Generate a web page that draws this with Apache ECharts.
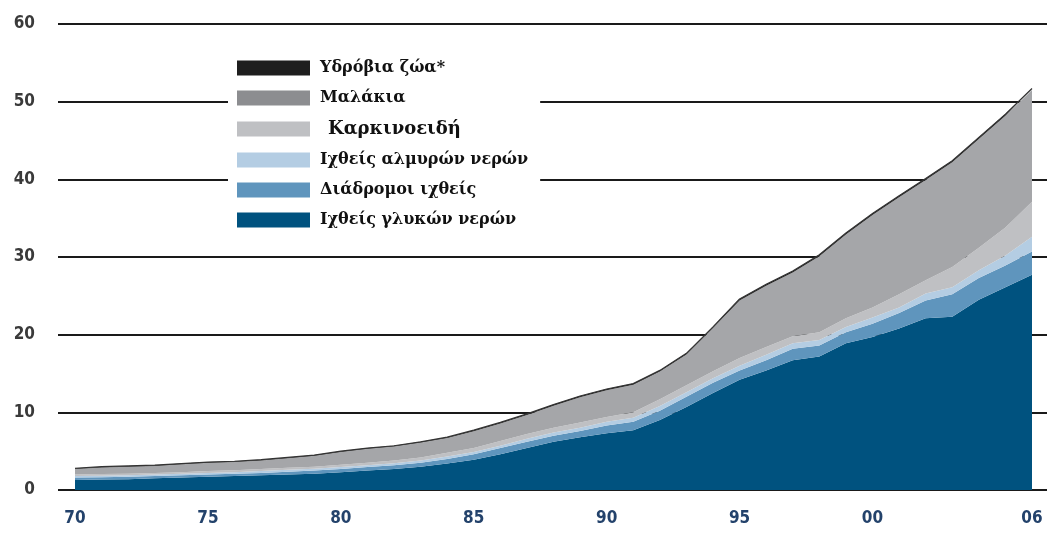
<!DOCTYPE html>
<html>
<head>
<meta charset="utf-8">
<script src="https://cdn.jsdelivr.net/npm/echarts@6/dist/echarts.min.js"></script>
<style>
html,body{margin:0;padding:0;background:#fff;}
#c{width:1047px;height:534px;}
</style>
</head>
<body>
<div id="c"></div>
<script>
// Years 1970..2006
const years = ["1970","1971","1972","1973","1974","1975","1976","1977","1978","1979","1980","1981","1982","1983","1984","1985","1986","1987","1988","1989","1990","1991","1992","1993","1994","1995","1996","1997","1998","1999","2000","2001","2002","2003","2004","2005","2006"];
const xTickLabels = ["1970","1975","1980","1985","1990","1995","2000","2006"];
const yTicks = [0,10,20,30,40,50,60];

// Series names (legend order top → bottom)
const names = ["Υδρόβια ζώα*","Μαλάκια","Καρκινοειδή","Ιχθείς αλμυρών νερών","Διάδρομοι ιχθείς","Ιχθείς γλυκών νερών"];

// Values (million tonnes), per series
const freshwater = [1.3,1.35,1.4,1.5,1.6,1.7,1.8,1.9,2.0,2.1,2.3,2.5,2.7,3.0,3.4,3.9,4.6,5.4,6.2,6.8,7.3,7.7,9.0,10.7,12.5,14.2,15.4,16.7,17.2,18.9,19.7,20.8,22.1,22.3,24.5,26.1,27.7];
const diadromous = [0.3,0.3,0.3,0.3,0.3,0.3,0.3,0.3,0.35,0.4,0.4,0.45,0.5,0.5,0.6,0.7,0.8,0.8,0.8,0.8,1.0,1.1,1.2,1.3,1.3,1.2,1.3,1.5,1.4,1.4,1.7,2.0,2.3,2.9,2.8,2.8,3.0];
const marine = [0.2,0.2,0.2,0.2,0.2,0.2,0.2,0.25,0.25,0.25,0.25,0.25,0.25,0.3,0.3,0.3,0.3,0.4,0.4,0.4,0.5,0.5,0.6,0.6,0.6,0.6,0.7,0.7,0.7,0.7,0.8,0.7,0.9,0.9,1.0,1.3,1.9];
const crustaceans = [0.2,0.2,0.2,0.2,0.2,0.25,0.25,0.25,0.25,0.25,0.3,0.3,0.35,0.4,0.5,0.5,0.6,0.6,0.6,0.7,0.6,0.7,0.9,0.9,0.9,1.0,1.0,0.9,1.0,1.1,1.3,1.7,1.7,2.6,2.9,3.6,4.5];
const molluscs = [0.7,0.85,0.9,0.9,1.0,1.05,1.05,1.1,1.25,1.4,1.65,1.8,1.8,1.9,1.9,2.15,2.25,2.45,2.85,3.25,3.45,3.55,3.55,3.95,5.55,7.4,7.9,8.2,9.8,10.8,11.9,12.5,12.9,13.5,14.0,14.4,14.4];
const aquaticNei = [0.1,0.1,0.1,0.1,0.1,0.1,0.1,0.1,0.1,0.1,0.1,0.1,0.1,0.1,0.1,0.15,0.15,0.15,0.15,0.15,0.15,0.15,0.15,0.15,0.15,0.2,0.2,0.2,0.2,0.2,0.2,0.2,0.2,0.2,0.2,0.2,0.2];

const chart = echarts.init(document.getElementById('c'), null, {renderer: 'canvas'});

function area(name, arr, color, lineW, lineC) {
  return {
    name: name, type: 'line', stack: 'total', symbol: 'none', smooth: false,
    xAxisIndex: 1, yAxisIndex: 1,
    data: arr,
    itemStyle: {color: color},
    lineStyle: {width: lineW, color: lineC || color},
    areaStyle: {color: color, opacity: 1},
    emphasis: {disabled: true},
    animation: false
  };
}

const legendColors = {
  "Υδρόβια ζώα*": "#1e1e1e",
  "Μαλάκια": "#8c8d90",
  "Καρκινοειδή": "#bfc0c3",
  "Ιχθείς αλμυρών νερών": "#b4cde3",
  "Διάδρομοι ιχθείς": "#5f95bd",
  "Ιχθείς γλυκών νερών": "#00527f"
};

const axisFont = "'Liberation Sans Narrow','DejaVu Sans Condensed','Open Sans',sans-serif";
const serif = "'DejaVu Serif','Liberation Serif',serif";

chart.setOption({
  animation: false,
  backgroundColor: '#ffffff',
  grid: [
    {left: 58, right: 0, top: 24, bottom: 44, containLabel: false},
    {left: 75, right: 15, top: 24, bottom: 44, containLabel: false}
  ],
  xAxis: [
    {gridIndex: 0, type: 'value', min: 0, max: 1, show: false},
    {
      gridIndex: 1, type: 'category', data: years, boundaryGap: false,
      axisLine: {show: false}, axisTick: {show: false}, splitLine: {show: false},
      axisLabel: {
        interval: (i, v) => xTickLabels.indexOf(v) >= 0,
        formatter: v => v.slice(2),
        color: '#23426b', fontFamily: axisFont, fontWeight: 'bold',
        fontSize: 17, margin: 20
      }
    }
  ],
  yAxis: [
    {
      gridIndex: 0, type: 'value', min: 0, max: 60, interval: 10,
      axisLine: {show: false}, axisTick: {show: false},
      axisLabel: {color: '#3a3a3a', fontFamily: axisFont, fontWeight: 'bold', fontSize: 17, margin: 23},
      splitLine: {show: true, lineStyle: {color: '#1a1a1a', width: 2}}
    },
    {gridIndex: 1, type: 'value', min: 0, max: 60, interval: 10, show: false, splitLine: {show: false}}
  ],
  legend: {
    orient: 'vertical',
    left: 228, top: 50,
    backgroundColor: '#ffffff',
    padding: [10, 12, 10, 9],
    icon: 'rect',
    itemWidth: 73, itemHeight: 15, itemGap: 14,
    selectedMode: false,
    data: names.map(n => ({name: n, itemStyle: {color: legendColors[n]}})),
    formatter: n => n === "Καρκινοειδή" ? '{b|' + n + '}' : '{a|' + n + '}',
    textStyle: {
      fontFamily: serif, fontWeight: 'bold', fontSize: 16, color: '#111', lineHeight: 15,
      rich: {
        a: {fontFamily: serif, fontWeight: 'bold', fontSize: 16, color: '#111', lineHeight: 15, padding: [0, 0, 0, 5]},
        b: {fontFamily: serif, fontWeight: 'bold', fontSize: 18, color: '#111', lineHeight: 15, padding: [0, 0, 0, 13]}
      }
    }
  },
  series: [
    area(names[5], freshwater, '#00527f', 0),
    area(names[4], diadromous, '#5f95bd', 0),
    area(names[3], marine, '#b4cde3', 0),
    area(names[2], crustaceans, '#bfc0c3', 0),
    area(names[1], molluscs, '#a5a6a9', 0),
    area(names[0], aquaticNei, '#2a2a2a', 1.2, '#333333')
  ]
});
</script>
</body>
</html>
